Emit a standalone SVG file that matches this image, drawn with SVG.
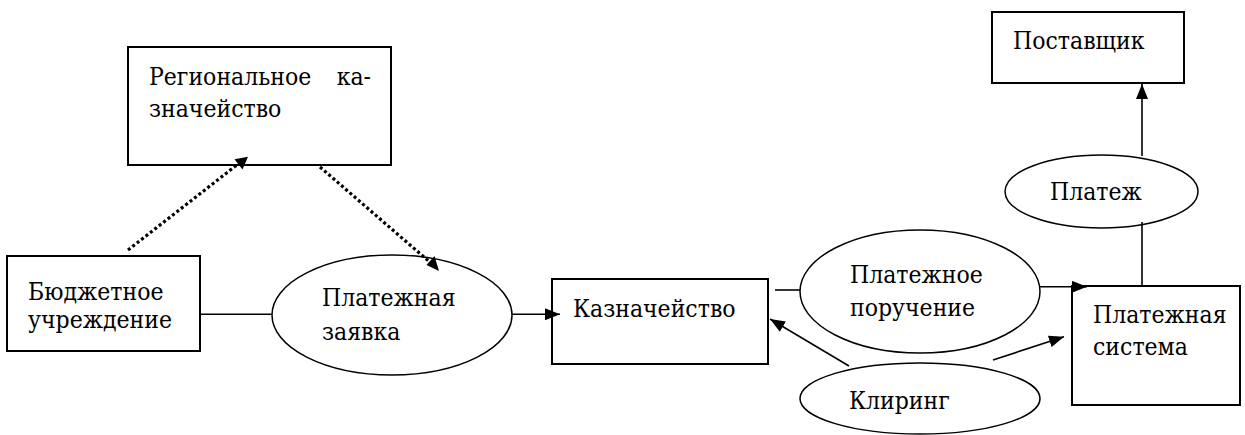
<svg xmlns="http://www.w3.org/2000/svg" width="1245" height="435" viewBox="0 0 1245 435">
<style>
  .box { fill: #fff; stroke: #000; stroke-width: 2; }
  .ell { fill: #fff; stroke: #000; stroke-width: 1.5; }
  .ln { fill: none; stroke: #000; stroke-width: 1.6; }
  .dot { fill: none; stroke: #000; stroke-width: 3.2; stroke-dasharray: 3 2.6; }
  text { font-family: 'DejaVu Serif Condensed', 'DejaVu Serif', serif; font-stretch: condensed; font-size: 24.5px; fill: #000; }
</style>
<defs>
  <marker id="ah" markerWidth="15" markerHeight="12" refX="15" refY="6" orient="auto" markerUnits="userSpaceOnUse">
    <path d="M0,0 L15,6 L0,12 z" fill="#000"/>
  </marker>
</defs>
<rect width="1245" height="435" fill="#fff"/>
<g id="regional">
  <rect class="box" x="128" y="47" width="263" height="118"/>
  <text x="149" y="85">Региональное</text>
  <text x="371" y="85" text-anchor="end">ка-</text>
  <text x="149" y="116.5">значейство</text>
</g>
<g id="budget">
  <rect class="box" x="7" y="256" width="193" height="95"/>
  <text x="28" y="300">Бюджетное</text>
  <text x="28" y="328">учреждение</text>
</g>
<g id="request">
  <ellipse class="ell" cx="392" cy="315" rx="120" ry="60"/>
  <text x="322" y="306">Платежная</text>
  <text x="322" y="340">заявка</text>
</g>
<g id="treasury">
  <rect class="box" x="552" y="279" width="216" height="85"/>
  <text x="573" y="317">Казначейство</text>
</g>
<g id="order">
  <ellipse class="ell" cx="920" cy="291.5" rx="120" ry="61.5"/>
  <text x="850" y="283">Платежное</text>
  <text x="850" y="316">поручение</text>
</g>
<g id="clearing">
  <ellipse class="ell" cx="920" cy="398.5" rx="120" ry="35.5"/>
  <text x="849" y="409">Клиринг</text>
</g>
<g id="paysystem">
  <rect class="box" x="1072" y="286" width="168" height="119"/>
  <text x="1093" y="323">Платежная</text>
  <text x="1093" y="355">система</text>
</g>
<g id="payment">
  <ellipse class="ell" cx="1101.5" cy="191.5" rx="96.5" ry="36.5"/>
  <text x="1050" y="200">Платеж</text>
</g>
<g id="supplier">
  <rect class="box" x="992" y="12" width="192" height="71"/>
  <text x="1013" y="49">Поставщик</text>
</g>
<g id="connectors">
  <line class="dot" x1="128" y1="250" x2="240" y2="162.5"/>
  <path d="M248,156.7 L234.5,159.3 L242.5,169.5 z" fill="#000"/>
  <line class="dot" x1="320" y1="167" x2="432" y2="264"/>
  <path d="M439,271 L426.5,265 L434.5,256 z" fill="#000"/>
  <line class="ln" x1="200" y1="314.3" x2="272" y2="314.3"/>
  <line class="ln" x1="512" y1="314.3" x2="560" y2="314.3" marker-end="url(#ah)"/>
  <line class="ln" x1="775" y1="290" x2="800" y2="290"/>
  <line class="ln" x1="1040" y1="286.8" x2="1087" y2="286.8" marker-end="url(#ah)"/>
  <line class="ln" x1="849" y1="366" x2="770" y2="319" marker-end="url(#ah)"/>
  <line class="ln" x1="993" y1="360" x2="1064" y2="336.7" marker-end="url(#ah)"/>
  <line class="ln" x1="1142" y1="222" x2="1142" y2="286"/>
  <line class="ln" x1="1142" y1="156" x2="1142" y2="84" marker-end="url(#ah)"/>
</g>
</svg>
